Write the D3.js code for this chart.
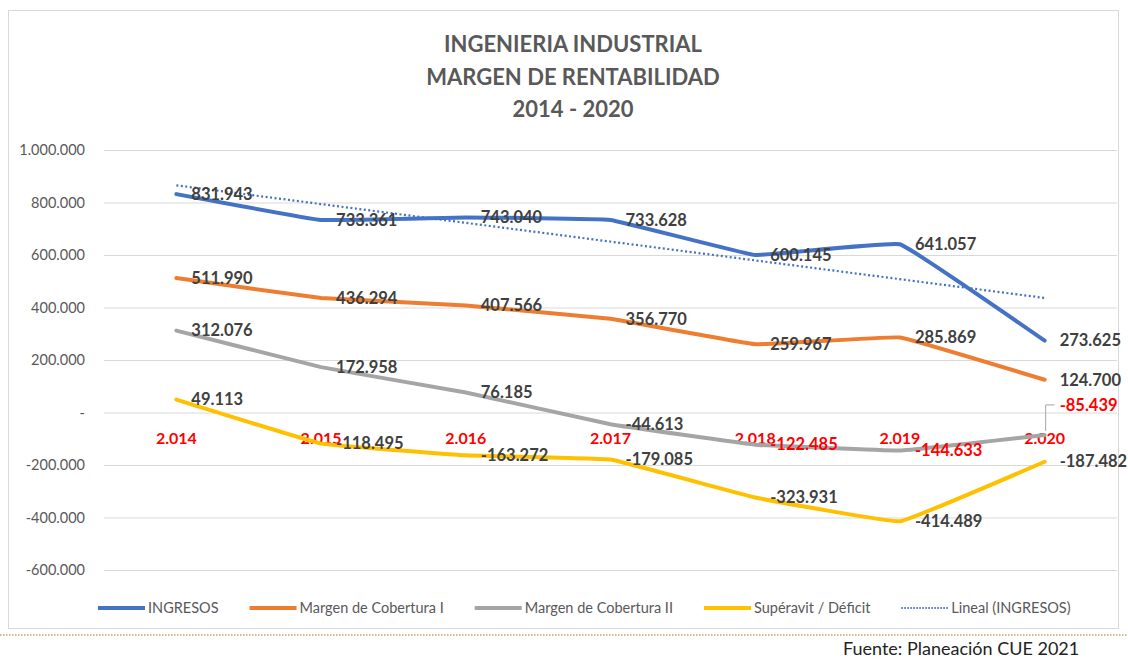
<!DOCTYPE html>
<html>
<head>
<meta charset="utf-8">
<script src="https://cdn.jsdelivr.net/npm/d3@7"></script>
<style>
  body { margin: 0; background: #fff; }
  text { font-family: Lato, "Liberation Sans", sans-serif; }
</style>
</head>
<body>
<div id="chart"></div>
<script>
const years = ["2.014", "2.015", "2.016", "2.017", "2.018", "2.019", "2.020"];
const ingresos = [831943, 733361, 743040, 733628, 600145, 641057, 273625];
const margen1 = [511990, 436294, 407566, 356770, 259967, 285869, 124700];
const margen2 = [312076, 172958, 76185, -44613, -122485, -144633, -85439];
const superavit = [49113, -118495, -163272, -179085, -323931, -414489, -187482];
// linear trend of INGRESOS, read at first and last year
const trendValues = [865500, 436400];
const yTicks = [-600000, -400000, -200000, 0, 200000, 400000, 600000, 800000, 1000000];
const titleLines = ["INGENIERIA INDUSTRIAL", "MARGEN DE RENTABILIDAD", "2014 - 2020"];

const width = 1128;
const height = 659;
const plotLeft = 104;
const plotRight = 1117;
const plotTop = 150;
const plotBottom = 570;

const series = [
  { key: "ingresos", name: "INGRESOS", values: ingresos, color: "#4472C4" },
  { key: "margen1", name: "Margen de Cobertura I", values: margen1, color: "#ED7D31" },
  { key: "margen2", name: "Margen de Cobertura II", values: margen2, color: "#A5A5A5" },
  { key: "superavit", name: "Supéravit / Déficit", values: superavit, color: "#FFC000" }
];
// labels Excel painted red
const redLabels = new Set(["margen2-4", "margen2-5", "margen2-6"]);

const locale = d3.formatLocale({ decimal: ",", thousands: ".", grouping: [3], currency: ["$", ""], minus: "-" });
const fmt = locale.format(",d");

const svg = d3.select("#chart").append("svg").attr("width", width).attr("height", height);

// chart frame
svg.append("rect")
  .attr("x", 8.5).attr("y", 10.5)
  .attr("width", 1110).attr("height", 618)
  .attr("fill", "#fff").attr("stroke", "#d9d9d9");

svg.append("line")
  .attr("x1", 0).attr("x2", width).attr("y1", 635).attr("y2", 635)
  .attr("stroke", "#c4a078").attr("stroke-width", 1.5).attr("stroke-dasharray", "1.5,1.5");

svg.append("text")
  .attr("x", 843).attr("y", 655)
  .attr("font-size", 18).attr("fill", "#222")
  .text("Fuente: Planeación CUE 2021");

const x = d3.scaleBand().domain(years).range([plotLeft, plotRight]);
const cx = (i) => x(years[i]) + x.bandwidth() / 2;
const y = d3.scaleLinear().domain([-600000, 1000000]).range([plotBottom, plotTop]);

// title
svg.append("g").selectAll("text")
  .data(titleLines)
  .join("text")
  .attr("x", 573)
  .attr("y", (d, i) => 52 + i * 32.5)
  .attr("text-anchor", "middle")
  .attr("font-size", 22)
  .attr("font-weight", 700)
  .attr("fill", "#595959")
  .text((d) => d);

// grid
svg.append("g")
  .attr("transform", `translate(${plotLeft},0)`)
  .call(d3.axisLeft(y).tickValues(yTicks).tickSize(-(plotRight - plotLeft)).tickFormat(""))
  .call((g) => g.select(".domain").remove())
  .call((g) => g.selectAll("line").attr("stroke", "#d9d9d9").attr("stroke-width", 1.2));

// y axis labels
svg.append("g")
  .attr("transform", `translate(${plotLeft},0)`)
  .call(d3.axisLeft(y).tickValues(yTicks).tickSize(0).tickPadding(19)
    .tickFormat((d) => (d === 0 ? "-" : fmt(d))))
  .call((g) => g.select(".domain").remove())
  .call((g) => g.selectAll("text").attr("font-size", 14.5).attr("fill", "#595959")
    .style("font-family", "Lato, 'Liberation Sans', sans-serif"));

// category labels next to the zero line
svg.append("g").selectAll("text")
  .data(years)
  .join("text")
  .attr("x", (d, i) => cx(i))
  .attr("y", y(0) + 31)
  .attr("text-anchor", "middle")
  .attr("font-size", 16)
  .attr("font-weight", 700)
  .attr("fill", "#FF0000")
  .text((d) => d);

// trend line
svg.append("line")
  .attr("x1", cx(0)).attr("x2", cx(years.length - 1))
  .attr("y1", y(trendValues[0])).attr("y2", y(trendValues[1]))
  .attr("stroke", "#4472C4").attr("stroke-width", 2.2)
  .attr("stroke-dasharray", "2,2.5");

const line = d3.line()
  .x((d, i) => cx(i))
  .y((d) => y(d))
  .curve(d3.curveCardinal.tension(0.8));

svg.append("g").selectAll("path")
  .data(series)
  .join("path")
  .attr("d", (s) => line(s.values))
  .attr("fill", "none")
  .attr("stroke", (s) => s.color)
  .attr("stroke-width", 4)
  .attr("stroke-linejoin", "round")
  .attr("stroke-linecap", "round");

// data labels
const labels = series.flatMap((s) =>
  s.values.map((v, i) => ({ key: `${s.key}-${i}`, v, i }))
);
const moved = { "margen2-6": -30 };

svg.append("g").selectAll("text")
  .data(labels)
  .join("text")
  .attr("x", (d) => cx(d.i) + 15)
  .attr("y", (d) => y(d.v) + (moved[d.key] || 0))
  .attr("dy", "0.35em")
  .attr("font-size", 16.5)
  .attr("font-weight", 700)
  .attr("fill", (d) => (redLabels.has(d.key) ? "#FF0000" : "#404040"))
  .text((d) => fmt(d.v));

// leader line for the moved label
const last = margen2.length - 1;
svg.append("path")
  .attr("d", `M${cx(last) + 10},${y(margen2[last]) - 30} H${cx(last) + 1} V${y(margen2[last]) - 4}`)
  .attr("fill", "none")
  .attr("stroke", "#a6a6a6")
  .attr("stroke-width", 1);

// legend
const legendItems = [
  ...series.map((s) => ({ name: s.name, color: s.color, dash: null, w: 4 })),
  { name: "Lineal (INGRESOS)", color: "#4472C4", dash: "1.5,1.5", w: 2 }
];
const legend = svg.append("g").attr("transform", "translate(98,608)");
let lx = 0;
legendItems.forEach((item) => {
  const g = legend.append("g").attr("transform", `translate(${lx},0)`);
  g.append("line")
    .attr("x1", 0).attr("x2", 47)
    .attr("stroke", item.color).attr("stroke-width", item.w)
    .attr("stroke-dasharray", item.dash);
  const t = g.append("text")
    .attr("x", 50).attr("dy", "0.35em")
    .attr("font-size", 14.5).attr("fill", "#595959")
    .text(item.name);
  lx += 50 + t.node().getComputedTextLength() + 31;
});
</script>
</body>
</html>
